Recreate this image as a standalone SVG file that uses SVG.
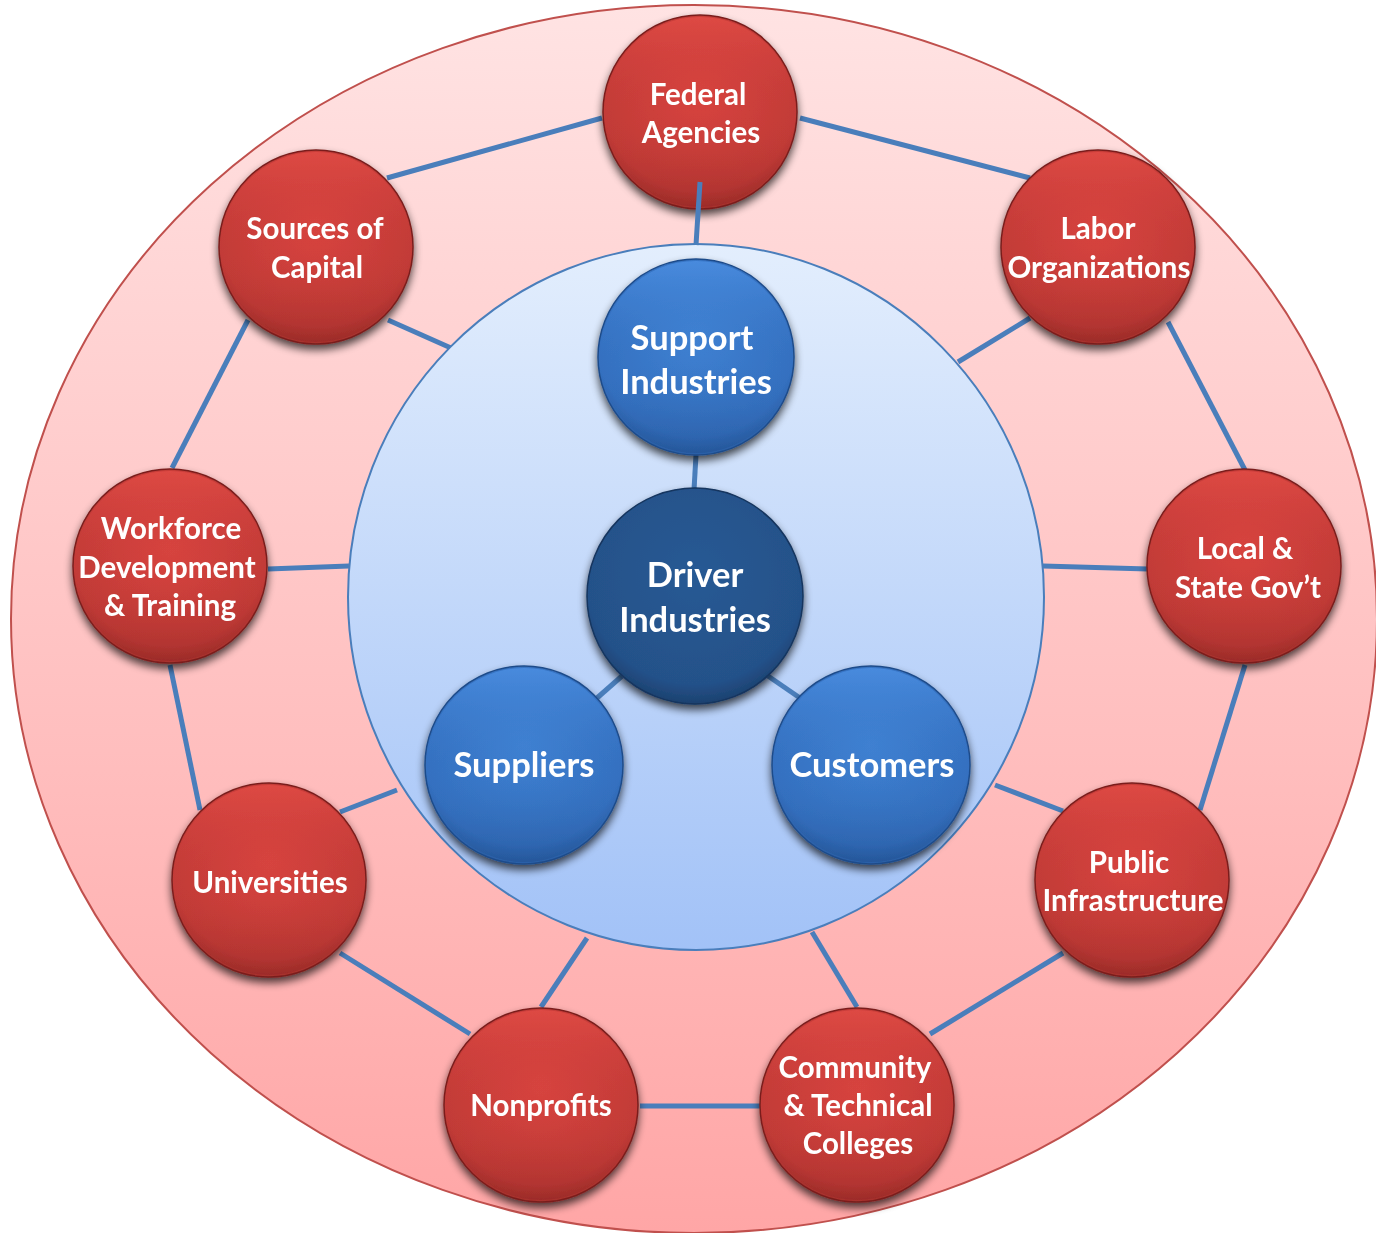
<svg xmlns="http://www.w3.org/2000/svg" width="1376" height="1233" viewBox="0 0 1376 1233">
<defs>
<linearGradient id="gOuter" x1="0" y1="0" x2="0" y2="1">
<stop offset="0" stop-color="#ffe3e3"/><stop offset="1" stop-color="#ffa6a6"/>
</linearGradient>
<linearGradient id="gInner" x1="0" y1="0" x2="0" y2="1">
<stop offset="0" stop-color="#e3eefd"/><stop offset="1" stop-color="#a2c2f7"/>
</linearGradient>
<radialGradient id="gRed" cx="0.5" cy="0.4" r="0.6">
<stop offset="0" stop-color="#d8443f"/><stop offset="0.85" stop-color="#c23b37"/><stop offset="1" stop-color="#a52f2c"/>
</radialGradient>
<linearGradient id="gRedShade" x1="0" y1="0" x2="0" y2="1">
<stop offset="0" stop-color="#e04a45" stop-opacity="0.9"/><stop offset="0.5" stop-color="#c93d39" stop-opacity="0"/><stop offset="1" stop-color="#8e2623" stop-opacity="0.45"/>
</linearGradient>
<radialGradient id="gBlue" cx="0.5" cy="0.4" r="0.6">
<stop offset="0" stop-color="#3f81d2"/><stop offset="0.85" stop-color="#3470c0"/><stop offset="1" stop-color="#2a5ea5"/>
</radialGradient>
<linearGradient id="gBlueShade" x1="0" y1="0" x2="0" y2="1">
<stop offset="0" stop-color="#4a8de0" stop-opacity="0.9"/><stop offset="0.5" stop-color="#3a78c8" stop-opacity="0"/><stop offset="1" stop-color="#1f4c8a" stop-opacity="0.45"/>
</linearGradient>
<radialGradient id="gDriver" cx="0.5" cy="0.4" r="0.6">
<stop offset="0" stop-color="#285a94"/><stop offset="0.85" stop-color="#245189"/><stop offset="1" stop-color="#1c416f"/>
</radialGradient>
<filter id="sh" x="-20%" y="-20%" width="140%" height="150%">
<feGaussianBlur in="SourceAlpha" stdDeviation="4"/>
<feOffset dx="0" dy="5" result="b"/>
<feComponentTransfer><feFuncA type="linear" slope="0.7"/></feComponentTransfer>
<feMerge><feMergeNode/><feMergeNode in="SourceGraphic"/></feMerge>
</filter>
</defs>
<style>
.con line{stroke:#4a7ebb;stroke-width:5;stroke-linecap:butt}
.red{fill:url(#gRed);stroke:#7a1f1d;stroke-width:1.5}
.redS{fill:url(#gRedShade)}
.blue{fill:url(#gBlue);stroke:#1f4c8a;stroke-width:1.5}
.blueS{fill:url(#gBlueShade)}
.drv{fill:url(#gDriver);stroke:#15355e;stroke-width:1.5}
.t{font-family:Lato,"Open Sans","Liberation Sans",sans-serif;font-weight:700;fill:#ffffff;text-anchor:middle}
.tr{font-size:29.5px}
.tb{font-size:34.5px}
</style>
<ellipse cx="694" cy="619" rx="683" ry="614" fill="url(#gOuter)" stroke="#c0504d" stroke-width="2"/>
<g class="con">
<line x1="602" y1="118" x2="387" y2="178"/>
<line x1="800" y1="118" x2="1030" y2="178"/>
<line x1="248" y1="320" x2="172" y2="468"/>
<line x1="388" y1="320" x2="451" y2="348"/>
<line x1="1030" y1="318" x2="958" y2="362"/>
<line x1="1168" y1="322" x2="1245" y2="470"/>
<line x1="268" y1="569" x2="349" y2="566"/>
<line x1="1043" y1="566" x2="1148" y2="569"/>
<line x1="170" y1="665" x2="200" y2="810"/>
<line x1="1245" y1="665" x2="1200" y2="810"/>
<line x1="340" y1="812" x2="397" y2="790"/>
<line x1="995" y1="785" x2="1063" y2="811"/>
<line x1="340" y1="953" x2="470" y2="1034"/>
<line x1="1063" y1="953" x2="930" y2="1034"/>
<line x1="541" y1="1007" x2="587" y2="938"/>
<line x1="857" y1="1007" x2="812" y2="932"/>
<line x1="640" y1="1106" x2="760" y2="1106"/>
</g>
<ellipse cx="696" cy="597" rx="348" ry="353" fill="url(#gInner)" stroke="#4a7ebb" stroke-width="2"/>
<g class="con">
<line x1="696" y1="455" x2="694" y2="490"/>
<line x1="622" y1="676" x2="597" y2="698"/>
<line x1="768" y1="676" x2="800" y2="698"/>
</g>
<g id="federal" filter="url(#sh)"><circle cx="700" cy="112" r="97" class="red"/><circle cx="700" cy="112" r="95" class="redS"/>
<text class="t tr" x="698" y="105">Federal</text><text class="t tr" x="701" y="143">Agencies</text></g>
<g class="con"><line x1="700" y1="182" x2="696" y2="245"/></g>
<g id="capital" filter="url(#sh)"><circle cx="316" cy="247" r="97" class="red"/><circle cx="316" cy="247" r="95" class="redS"/>
<text class="t tr" x="315" y="239">Sources of</text><text class="t tr" x="317" y="278">Capital</text></g>
<g id="labor" filter="url(#sh)"><circle cx="1098" cy="247" r="97" class="red"/><circle cx="1098" cy="247" r="95" class="redS"/>
<text class="t tr" x="1098" y="239">Labor</text><text class="t tr" x="1099" y="278">Organizations</text></g>
<g id="workforce" filter="url(#sh)"><circle cx="170" cy="566" r="97" class="red"/><circle cx="170" cy="566" r="95" class="redS"/>
<text class="t tr" x="171" y="539">Workforce</text><text class="t tr" x="167" y="578">Development</text><text class="t tr" x="170" y="616">&amp; Training</text></g>
<g id="local" filter="url(#sh)"><circle cx="1244" cy="566" r="97" class="red"/><circle cx="1244" cy="566" r="95" class="redS"/>
<text class="t tr" x="1245" y="559">Local &amp;</text><text class="t tr" x="1248" y="598">State Gov’t</text></g>
<g id="universities" filter="url(#sh)"><circle cx="269" cy="880" r="97" class="red"/><circle cx="269" cy="880" r="95" class="redS"/>
<text class="t tr" x="270" y="893">Universities</text></g>
<g id="public" filter="url(#sh)"><circle cx="1132" cy="880" r="97" class="red"/><circle cx="1132" cy="880" r="95" class="redS"/>
<text class="t tr" x="1129" y="873">Public</text><text class="t tr" x="1133" y="911">Infrastructure</text></g>
<g id="nonprofits" filter="url(#sh)"><circle cx="541" cy="1105" r="97" class="red"/><circle cx="541" cy="1105" r="95" class="redS"/>
<text class="t tr" x="541" y="1116">Nonprofits</text></g>
<g id="community" filter="url(#sh)"><circle cx="857" cy="1105" r="97" class="red"/><circle cx="857" cy="1105" r="95" class="redS"/>
<text class="t tr" x="855" y="1078">Community</text><text class="t tr" x="858" y="1116">&amp; Technical</text><text class="t tr" x="858" y="1154">Colleges</text></g>
<g id="support" filter="url(#sh)"><circle cx="696" cy="357" r="98" class="blue"/><circle cx="696" cy="357" r="96" class="blueS"/>
<text class="t tb" x="692" y="350">Support</text><text class="t tb" x="696" y="394">Industries</text></g>
<g id="driver" filter="url(#sh)"><circle cx="695" cy="596" r="108" class="drv"/>
<text class="t tb" x="695" y="587">Driver</text><text class="t tb" x="695" y="632">Industries</text></g>
<g id="suppliers" filter="url(#sh)"><circle cx="524" cy="765" r="99" class="blue"/><circle cx="524" cy="765" r="97" class="blueS"/>
<text class="t tb" x="524" y="777">Suppliers</text></g>
<g id="customers" filter="url(#sh)"><circle cx="871" cy="765" r="99" class="blue"/><circle cx="871" cy="765" r="97" class="blueS"/>
<text class="t tb" x="872" y="777">Customers</text></g>
</svg>
